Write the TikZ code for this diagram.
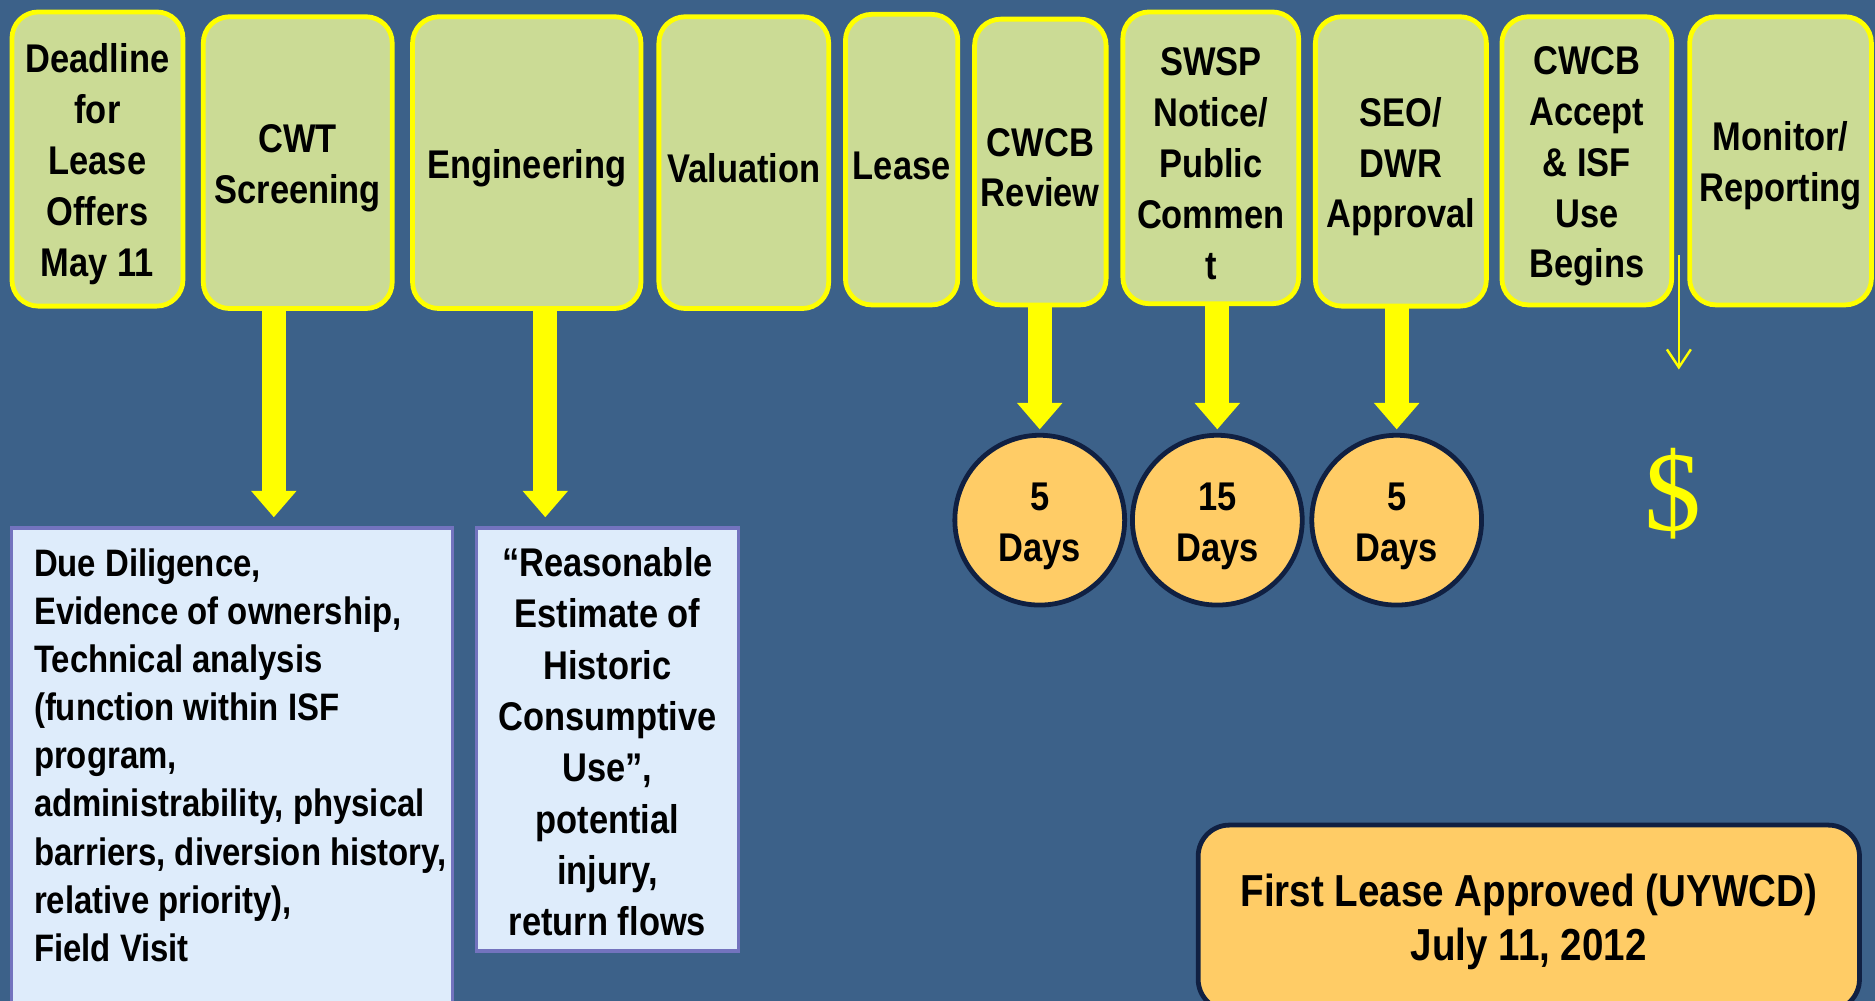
\documentclass[tikz,border=0pt]{standalone}
\usepackage{fontspec}
\setmainfont{Liberation Sans}[FakeStretch=0.86]
\newfontfamily\dollarfont{Liberation Serif}
\usetikzlibrary{arrows.meta}
\definecolor{bgc}{RGB}{60,97,137}
\definecolor{boxgreen}{RGB}{203,219,149}
\definecolor{brightyellow}{RGB}{255,255,0}
\definecolor{paleblue}{RGB}{222,236,251}
\definecolor{lilac}{RGB}{115,115,190}
\definecolor{dayorange}{RGB}{255,204,102}
\definecolor{navy}{RGB}{16,32,66}
\newcommand\topfont{\fontsize{33.5}{42.5}\selectfont\bfseries}
\newcommand\lowerit{\rule{0pt}{33pt}}
\begin{document}
\begin{tikzpicture}[x=1pt,y=-1pt,
  gbox/.style={draw=brightyellow, line width=4pt, fill=boxgreen, rounded corners=22pt,
     align=center, inner sep=0pt, outer sep=0pt, font=\topfont},
  tbox/.style={draw=lilac, line width=3pt, fill=paleblue, inner sep=0pt, outer sep=0pt},
  daycirc/.style={circle, draw=navy, line width=4pt, fill=dayorange, minimum size=142pt,
     inner sep=0pt, outer sep=0pt, align=center, font=\topfont},
  bigarrow/.style={draw=brightyellow, line width=20pt,
     -{Triangle[length=22pt, width=38pt, line width=0pt]}},
  thinarrow/.style={draw=brightyellow, line width=2pt,
     -{Straight Barb[length=15pt, width=20pt]}}
]
\fill[bgc] (0,0) rectangle (1568,837);
\clip (0,0) rectangle (1568,837);

% top process boxes
\node[gbox, minimum width=143pt, minimum height=246pt] (dead) at (81.5,133) {\lowerit Deadline\\for\\Lease\\Offers\\May 11};
\node[gbox, minimum width=158pt, minimum height=244pt] (cwt) at (249,136) {\lowerit CWT\\Screening};
\node[gbox, minimum width=191pt, minimum height=244pt] (eng) at (440.5,136) {\lowerit Engineering};
\node[gbox, minimum width=142pt, minimum height=244pt] (val) at (622,136) {\lowerit Valuation};
\node[gbox, minimum width=94pt, minimum height=243pt] (lease) at (754,133.5) {\lowerit Lease};
\node[gbox, minimum width=110pt, minimum height=239pt] (rev) at (870,135.5) {\lowerit CWCB\\Review};
\node[gbox, minimum width=147pt, minimum height=244pt] (swsp) at (1012.5,132) {\lowerit SWSP\\Notice/\\Public\\Commen\\t};
\node[gbox, minimum width=143pt, minimum height=242pt] (seo) at (1171.5,135) {\lowerit SEO/\\DWR\\Approval};
\node[gbox, minimum width=142pt, minimum height=241pt] (acc) at (1327,134.5) {\lowerit CWCB\\Accept\\\& ISF\\Use\\Begins};
\node[gbox, minimum width=152pt, minimum height=241pt] (mon) at (1489,134.5) {\lowerit Monitor/\\Reporting};

% lower text boxes
\node[tbox, anchor=north west] (due) at (9.5,441.5)
  {\parbox[c][420pt][t]{369pt}{\fontsize{32}{40.3}\selectfont\bfseries\raggedright\leftskip=19pt\relax
   \vspace*{17pt}Due Diligence,\\
   Evidence of ownership,\\
   Technical analysis\\
   (function within ISF\\
   program,\\
   administrability, physical\\
   barriers, diversion history,\\
   relative priority),\\
   Field Visit}};
\node[tbox, minimum width=219pt, minimum height=354pt, align=center,
      font=\fontsize{33.5}{42.9}\selectfont\bfseries] (hist) at (508,618.5)
  {\rule{0pt}{28pt}“Reasonable\\Estimate of\\Historic\\Consumptive\\Use”,\\potential\\injury,\\return flows};

% day circles
\node[daycirc] (d1) at (869.5,435) {\lowerit 5\\Days};
\node[daycirc] (d2) at (1018,435) {\lowerit 15\\Days};
\node[daycirc] (d3) at (1168,435) {\lowerit 5\\Days};

% first lease box
\node[draw=navy, line width=4pt, fill=dayorange, rounded corners=26pt, minimum width=553pt,
      minimum height=155pt, inner sep=0pt, outer sep=0pt, align=center,
      font=\fontsize{37.5}{45}\selectfont\bfseries] (first) at (1278.5,767.5)
  {\rule{0pt}{34pt}First Lease Approved (UYWCD)\\July 11, 2012};

% dollar sign
\node[text=brightyellow, font=\dollarfont\fontsize{95}{95}\selectfont, inner sep=0pt] (dollar) at (1399,413) {\$};

% big arrows
\coordinate (a1) at ([xshift=-20pt]cwt.south);
\coordinate (a2) at ([xshift=15.5pt]eng.south);
\draw[bigarrow, shorten >=9pt] (a1) -- (a1 |- due.north);
\draw[bigarrow, shorten >=9pt] (a2) -- (a2 |- hist.north);
\draw[bigarrow, shorten >=5pt] (d1 |- rev.south) -- (d1.north);
\draw[bigarrow, shorten >=5pt] (d2 |- swsp.south) -- (d2.north);
\draw[bigarrow, shorten >=5pt] (d3 |- seo.south) -- (d3.north);

% thin arrow
\coordinate (mstart) at (1404,213);
\coordinate (mend) at (1404,309);
\draw[thinarrow] (mstart) -- (mend);
\end{tikzpicture}
\end{document}
